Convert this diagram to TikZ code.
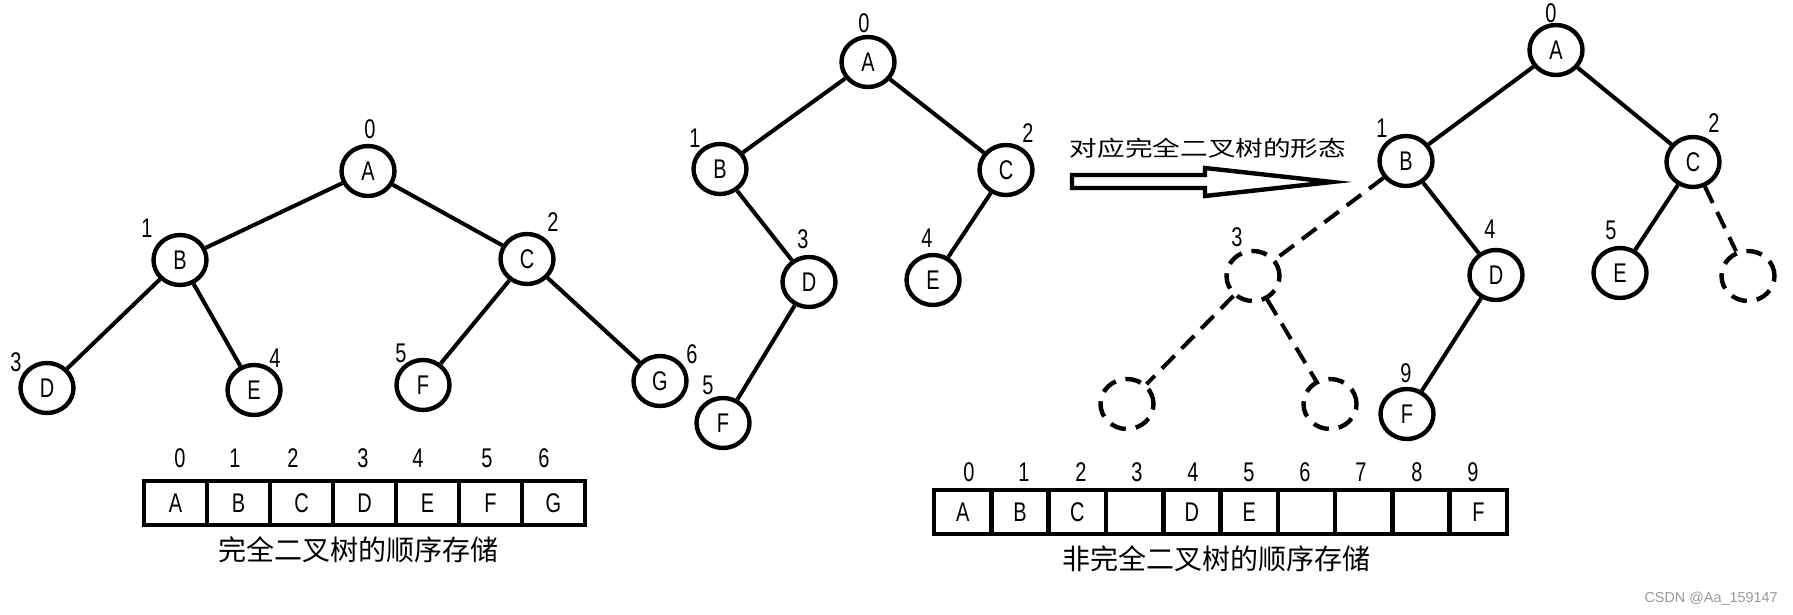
\documentclass[tikz,border=0pt]{standalone}
\usepackage{fontspec}
\usepackage{graphicx}
\setmainfont{Liberation Sans}[FakeStretch=0.74]
\newfontfamily\cjk{Noto Sans CJK SC}
\newfontfamily\wmfont{Liberation Sans}
\usetikzlibrary{shapes.geometric}
\begin{document}
\begin{tikzpicture}[x=0.5pt,y=-0.5pt,
  tn/.style={ellipse, draw, line width=2.2pt, minimum width=26.5pt, minimum height=25pt, inner sep=0pt, font=\fontsize{13.5}{15}\selectfont},
  dn/.style={tn, dash pattern=on 8pt off 5pt},
  ed/.style={line width=2pt},
  ded/.style={ed, dash pattern=on 9pt off 5pt},
  idx/.style={inner sep=0pt, font=\fontsize{13.5}{15}\selectfont},
  lcell/.style={draw, line width=2.3pt, minimum width=31.5pt, minimum height=22pt, inner sep=0pt, font=\fontsize{13.5}{15}\selectfont},
  rcell/.style={lcell, minimum width=28.65pt},
  captxt/.style={inner sep=0pt, font=\cjk\fontsize{14}{16}\selectfont}
]
\useasboundingbox (0,0) rectangle (1793,615);

% ---------- left tree ----------
\node[tn] (LA) at (368,171) {A};
\node[tn] (LB) at (180,260) {B};
\node[tn] (LC) at (527,259) {C};
\node[tn] (LD) at (47,388) {D};
\node[tn] (LE) at (254,390) {E};
\node[tn] (LF) at (423,385) {F};
\node[tn] (LG) at (660,381) {G};
\draw[ed] (LA) -- (LB);
\draw[ed] (LA) -- (LC);
\draw[ed] (LB) -- (LD);
\draw[ed] (LB) -- (LE);
\draw[ed] (LC) -- (LF);
\draw[ed] (LC) -- (LG);
\node[idx] (l0) at (370,129) {0};
\node[idx] (l1) at (147,228) {1};
\node[idx] (l2) at (553,222) {2};
\node[idx] (l3) at (16,362) {3};
\node[idx] (l4) at (275,358) {4};
\node[idx] (l5) at (401,353) {5};
\node[idx] (l6) at (692,354) {6};

% ---------- left array ----------
\foreach \i/\t in {0/A,1/B,2/C,3/D,4/E,5/F,6/G}
  \node[lcell] (LC\i) at ({175.5+63*\i},503) {\raisebox{-2pt}{\t}};
\foreach \i/\x in {0/180,1/235,2/293,3/363,4/418,5/487,6/544}
  \node[idx] (li\i) at (\x,458) {\i};
\node[captxt] (lcap) at (358,550) {完全二叉树的顺序存储};

% ---------- middle tree ----------
\node[tn] (MA) at (868,62) {A};
\node[tn] (MB) at (720,169) {B};
\node[tn] (MC) at (1006,170) {C};
\node[tn] (MD) at (809,282) {D};
\node[tn] (ME) at (933,280) {E};
\node[tn] (MF) at (723,423) {F};
\draw[ed] (MA) -- (MB);
\draw[ed] (MA) -- (MC);
\draw[ed] (MB) -- (MD);
\draw[ed] (MD) -- (MF);
\draw[ed] (MC) -- (ME);
\node[idx] (m0) at (864,23) {0};
\node[idx] (m1) at (695,138) {1};
\node[idx] (m2) at (1028,133) {2};
\node[idx] (m3) at (803,239) {3};
\node[idx] (m4) at (927,238) {4};
\node[idx] (m5) at (708,385) {5};

% ---------- arrow ----------
\node[inner sep=0pt] (arrlab) at (1208,148) {\cjk\fontsize{10.8}{12}\selectfont\scalebox{1.28}[1]{对应完全二叉树的形态}};
\draw[line width=2.2pt, line join=miter] (1072,175) -- (1205,175) -- (1205,168) -- (1332,182) -- (1205,196) -- (1205,188) -- (1072,188) -- cycle;

% ---------- right tree ----------
\node[tn] (RA) at (1556,50) {A};
\node[tn] (RB) at (1406,161) {B};
\node[tn] (RC) at (1693,162) {C};
\node[dn] (R3) at (1253,276) {};
\node[tn] (RD) at (1496,275) {D};
\node[tn] (RE) at (1620,273) {E};
\node[dn] (R6) at (1748,276) {};
\node[dn] (R7) at (1127,404) {};
\node[dn] (R8) at (1330,404) {};
\node[tn] (RF) at (1407,414) {F};
\draw[ed] (RA) -- (RB);
\draw[ed] (RA) -- (RC);
\draw[ded] (RB) -- (R3);
\draw[ed] (RB) -- (RD);
\draw[ed] (RD) -- (RF);
\draw[ed] (RC) -- (RE);
\draw[ded] (RC) -- (R6);
\draw[ded] (R3) -- (R7);
\draw[ded] (R3) -- (R8);
\node[idx] (r0) at (1551,13) {0};
\node[idx] (r1) at (1382,128) {1};
\node[idx] (r2) at (1714,123) {2};
\node[idx] (r3) at (1237,237) {3};
\node[idx] (r4) at (1490,229) {4};
\node[idx] (r5) at (1611,230) {5};
\node[idx] (r9) at (1406,373) {9};

% ---------- right array ----------
\foreach \i/\t in {0/A,1/B,2/C,3/,4/D,5/E,6/,7/,8/,9/F}
  \node[rcell] (RC\i) at ({962.65+57.3*\i},512) {\raisebox{-4pt}{\t}};
\foreach \i/\x in {0/969,1/1024,2/1081,3/1137,4/1193,5/1249,6/1305,7/1361,8/1417,9/1473}
  \node[idx] (ri\i) at (\x,472) {\i};
\node[captxt] (rcap) at (1216,559) {非完全二叉树的顺序存储};

% ---------- watermark ----------
\node[inner sep=0pt, anchor=east, text=black!40] (wm) at (1778,599) {\wmfont\fontsize{7.2}{8}\selectfont CSDN @Aa\_159147};
\end{tikzpicture}
\end{document}
